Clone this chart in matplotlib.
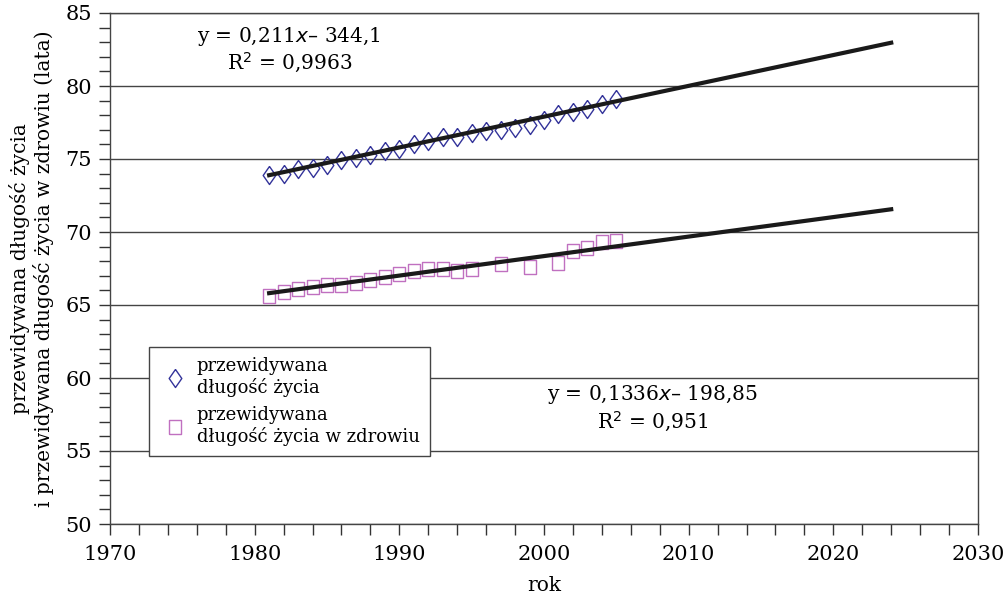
import numpy as np
import matplotlib
matplotlib.use('Agg')
import matplotlib.pyplot as plt
from matplotlib.ticker import MultipleLocator

# dane
years_life = list(range(1981, 2006))
life = [73.9, 74.0, 74.3, 74.4, 74.6, 74.9, 75.05, 75.3, 75.55, 75.7,
        76.0, 76.2, 76.5, 76.5, 76.8, 76.9, 77.0, 77.1, 77.3, 77.7,
        78.1, 78.2, 78.4, 78.8, 79.1]

years_healthy = [1981, 1982, 1983, 1984, 1985, 1986, 1987, 1988, 1989, 1990,
                 1991, 1992, 1993, 1994, 1995, 1997, 1999, 2001, 2002, 2003,
                 2004, 2005]
healthy = [65.6, 65.9, 66.1, 66.2, 66.4, 66.4, 66.5, 66.7, 66.9, 67.1,
           67.35, 67.5, 67.5, 67.35, 67.5, 67.8, 67.6, 67.9, 68.7, 68.9,
           69.3, 69.4]

# linie trendu (wspolczynniki z wykresu)
trend_range = [1981, 2024]
trend_life = (0.211, -344.1)
trend_healthy = (0.1336, -198.85)

label_life = 'przewidywana\ndługość życia'
label_healthy = 'przewidywana\ndługość życia w zdrowiu'

plt.rcParams['font.family'] = 'DejaVu Serif'
plt.rcParams['font.size'] = 14

fig = plt.figure(figsize=(10.07, 5.99), dpi=100)
ax = fig.add_axes([110 / 1007, 1 - 524 / 599, 868 / 1007, 511 / 599])

diamond = [(0, 1), (0.7, 0), (0, -1), (-0.7, 0), (0, 1)]
square = [(-0.85, -1), (0.85, -1), (0.85, 1), (-0.85, 1), (-0.85, -1)]

ax.plot(years_life, life, linestyle='none', marker=diamond, markersize=13,
        markerfacecolor='none', markeredgecolor='#33339a', markeredgewidth=1.0,
        label=label_life, zorder=3)
ax.plot(years_healthy, healthy, linestyle='none', marker=square, markersize=10.5,
        markerfacecolor='none', markeredgecolor='#c070c0', markeredgewidth=1.0,
        label=label_healthy, zorder=3)

tx = np.array(trend_range, dtype=float)
ax.plot(tx, trend_life[0] * tx + trend_life[1], color='#1a1a1a', lw=3, zorder=4)
ax.plot(tx, trend_healthy[0] * tx + trend_healthy[1], color='#1a1a1a', lw=3, zorder=4)

ax.set_xlim(1970, 2030)
ax.set_ylim(50, 85)
ax.xaxis.set_major_locator(MultipleLocator(10))
ax.xaxis.set_minor_locator(MultipleLocator(2))
ax.yaxis.set_major_locator(MultipleLocator(5))
ax.yaxis.set_minor_locator(MultipleLocator(1))
ax.tick_params(which='both', direction='out', color='#333333', width=1,
               length=8, labelsize=15)
ax.tick_params(axis='x', which='major', pad=7)
ax.tick_params(axis='y', which='major', pad=5)
ax.grid(axis='y', which='major', color='#444444', lw=1)
for s in ax.spines.values():
    s.set_color('#444444')
    s.set_linewidth(1)

ax.set_xlabel('rok', fontsize=14.5, labelpad=9)
ax.set_ylabel('przewidywana długość życia\ni przewidywana długość życia w zdrowiu (lata)',
              fontsize=14.5, labelpad=8)

ax.text(1982.4, 83.4, 'y = 0,211$\\it{x}$– 344,1', ha='center', va='center', fontsize=14.5)
ax.text(1982.4, 81.6, 'R$^2$ = 0,9963', ha='center', va='center', fontsize=14.5)
ax.text(2007.5, 58.85, 'y = 0,1336$\\it{x}$– 198,85', ha='center', va='center', fontsize=14.5)
ax.text(2007.5, 57.0, 'R$^2$ = 0,951', ha='center', va='center', fontsize=14.5)

leg = ax.legend(loc='upper left', bbox_to_anchor=(39 / 868, (524 - 347) / 511),
                borderaxespad=0, fontsize=13, fancybox=False, framealpha=1,
                edgecolor='#444444', handletextpad=0.3, handlelength=1.8,
                labelspacing=0.5, borderpad=0.55)
leg.get_frame().set_linewidth(1)

fig.savefig('out.png', dpi=100, facecolor='white')
